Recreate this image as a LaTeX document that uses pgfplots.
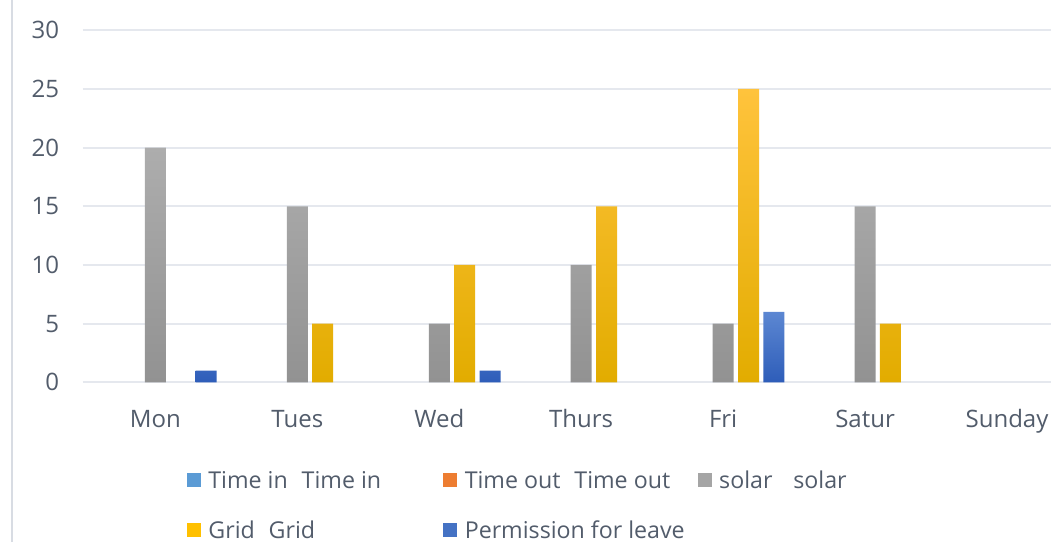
\documentclass[border=0pt]{standalone}
\usepackage{pgfplots}
\pgfplotsset{compat=1.18}
\usepackage{fontspec}
\setmainfont{Open Sans}
\definecolor{txt}{HTML}{525C6B}
\definecolor{gridc}{HTML}{E5E8EE}
\definecolor{leftline}{HTML}{D8DCE3}
\definecolor{timein}{HTML}{5B9BD5}
\definecolor{timeout}{HTML}{ED7D31}
\definecolor{solar}{HTML}{A5A5A5}
\definecolor{solarTop}{HTML}{ADADAD}
\definecolor{solarBot}{HTML}{929292}
\definecolor{grid}{HTML}{FFC000}
\definecolor{gridTop}{HTML}{FFC33C}
\definecolor{gridBot}{HTML}{E2AC00}
\definecolor{perm}{HTML}{4472C4}
\definecolor{permTop}{HTML}{5C87D2}
\definecolor{permBot}{HTML}{2E5DB9}
\begin{document}
\begin{tikzpicture}[x=1pt,y=1pt]
\useasboundingbox (0,0) rectangle (525.5,271);
\fill[white] (0,0) rectangle (525.5,271);
\draw[color=leftline, line width=1pt] (6,0) -- (6,271);
\begin{axis}[
  at={(41.5pt,79.85pt)}, anchor=south west,
  scale only axis, width=484pt, height=176pt,
  xmin=-0.51, xmax=6.31, ymin=0, ymax=30,
  xtick={0,...,6},
  xticklabels={Mon,Tues,Wed,Thurs,Fri,Satur,Sunday},
  ytick={0,5,...,30},
  axis line style={draw=none},
  major tick style={draw=none},
  ymajorgrids, xmajorgrids=false,
  major grid style={draw=gridc, line width=1pt},
  tick label style={font=\fontsize{12}{14}\selectfont, text=txt},
  /pgf/number format/assume math mode=true,
  xticklabel style={anchor=base, inner sep=0pt, yshift=-22.35pt},
  yticklabel style={anchor=east, inner sep=0pt, xshift=-11.75pt},
  legend columns=3,
  legend style={at={(0,0)}, anchor=north west, xshift=52pt, yshift=-44.1pt,
    draw=none, fill=none, inner sep=0pt, outer sep=0pt,
    column sep=0pt, row sep=13pt,
    font=\fontsize{11.6}{13}\selectfont, text=txt,
    nodes={inner sep=0pt, text height=9pt, text depth=3pt}},
  legend cell align=left,
  legend image code/.code={\fill[#1, draw=none] (0pt,-2.2pt) rectangle (7pt,4.8pt); \path (10.5pt,0pt);},
]
\addlegendimage{fill=timein}
\addlegendentry{\makebox[117.5pt][l]{Time in\hspace{0.6em}Time in}}
\addlegendimage{fill=timeout}
\addlegendentry{\makebox[116.5pt][l]{Time out\hspace{0.6em}Time out}}
\addlegendimage{fill=solar}
\addlegendentry{solar\hspace{0.9em}solar}
\addlegendimage{fill=grid}
\addlegendentry{Grid\hspace{0.6em}Grid}
\addlegendimage{fill=perm}
\addlegendentry{Permission for leave}

\addplot[ybar, forget plot, bar width=0.148, bar shift=0, draw=none,
  top color=solarTop, bottom color=solarBot]
  coordinates {(0,20) (1,15) (2,5) (3,10) (4,5) (5,15)};
\addplot[ybar, forget plot, bar width=0.148, bar shift=0.179, draw=none,
  top color=gridTop, middle color=grid, bottom color=gridBot]
  coordinates {(1,5) (2,10) (3,15) (4,25) (5,5)};
\addplot[ybar, forget plot, bar width=0.148, bar shift=0.358, draw=none,
  top color=permTop, bottom color=permBot]
  coordinates {(0,1) (2,1) (4,6)};
\end{axis}
\end{tikzpicture}
\end{document}
